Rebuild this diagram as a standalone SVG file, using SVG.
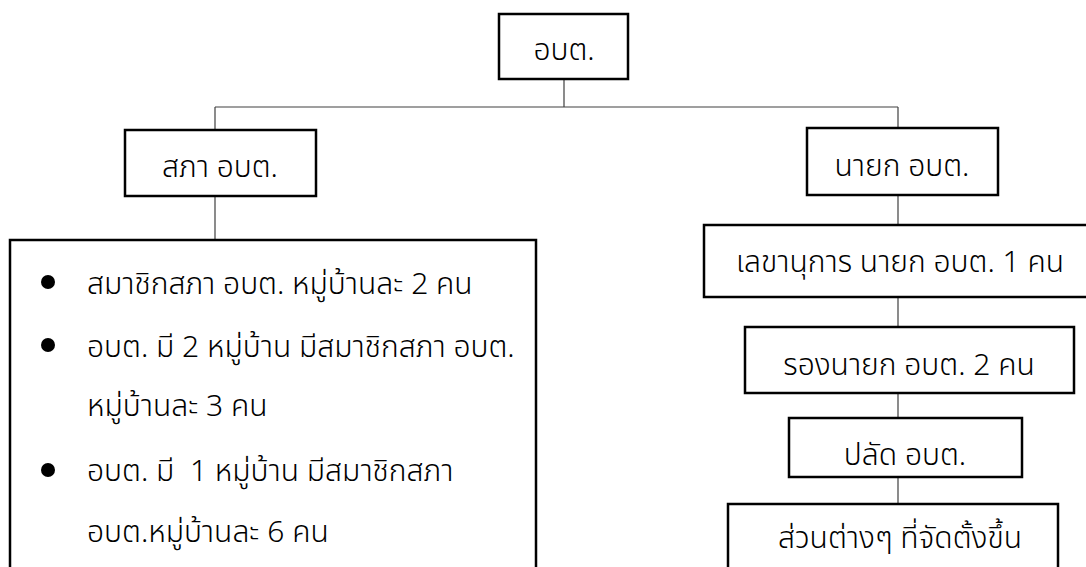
<svg xmlns="http://www.w3.org/2000/svg" width="1086" height="567" viewBox="0 0 1086 567">
<style>
.box{fill:#fff;stroke:#000;stroke-width:2.5}
.conn{stroke:#404040;stroke-width:1.2;fill:none}
text{font-family:"Noto Sans Thai","Noto Sans Thai UI","Leelawadee UI",Tahoma,"Loma","Garuda","DejaVu Sans",sans-serif;font-size:30px;font-weight:300;fill:#000;white-space:pre}
.c{text-anchor:middle}
</style>
<rect width="1086" height="567" fill="#fff"/>
<g id="connectors">
<path class="conn" d="M564 80V107M215 107H898M215 107V129M898 107V127M215 197V240M898 196V224M898 298V326M898 394V417M898 478V503"/>
</g>
<g id="n-obt"><rect class="box" x="499" y="14" width="129" height="65"/><text class="c" x="564" y="60">อบต.</text></g>
<g id="n-sapha"><rect class="box" x="125" y="130" width="191" height="66"/><text class="c" x="220" y="177">สภา อบต.</text></g>
<g id="n-members">
<rect class="box" x="10" y="240" width="526" height="400"/>
<circle cx="48" cy="282" r="7"/><circle cx="48" cy="345" r="7"/><circle cx="48" cy="470" r="7"/>
<text x="87" y="294">สมาชิกสภา อบต. หมู่บ้านละ 2 คน</text>
<text x="87" y="357">อบต. มี 2 หมู่บ้าน มีสมาชิกสภา อบต.</text>
<text x="87" y="416">หมู่บ้านละ 3 คน</text>
<text x="87" y="481">อบต. มี  1 หมู่บ้าน มีสมาชิกสภา</text>
<text x="87" y="542">อบต.หมู่บ้านละ 6 คน</text>
</g>
<g id="n-nayok"><rect class="box" x="807" y="128" width="191" height="67"/><text class="c" x="902" y="176">นายก อบต.</text></g>
<g id="n-secretary"><rect class="box" x="704" y="225" width="400" height="72"/><text class="c" x="900" y="272">เลขานุการ นายก อบต. 1 คน</text></g>
<g id="n-deputy"><rect class="box" x="745" y="327" width="329" height="66"/><text class="c" x="909" y="375">รองนายก อบต. 2 คน</text></g>
<g id="n-palad"><rect class="box" x="789" y="418" width="233" height="59"/><text class="c" x="905" y="465">ปลัด อบต.</text></g>
<g id="n-parts"><rect class="box" x="728" y="504" width="330" height="100"/><text class="c" x="900" y="548">ส่วนต่างๆ ที่จัดตั้งขึ้น</text></g>
</svg>
